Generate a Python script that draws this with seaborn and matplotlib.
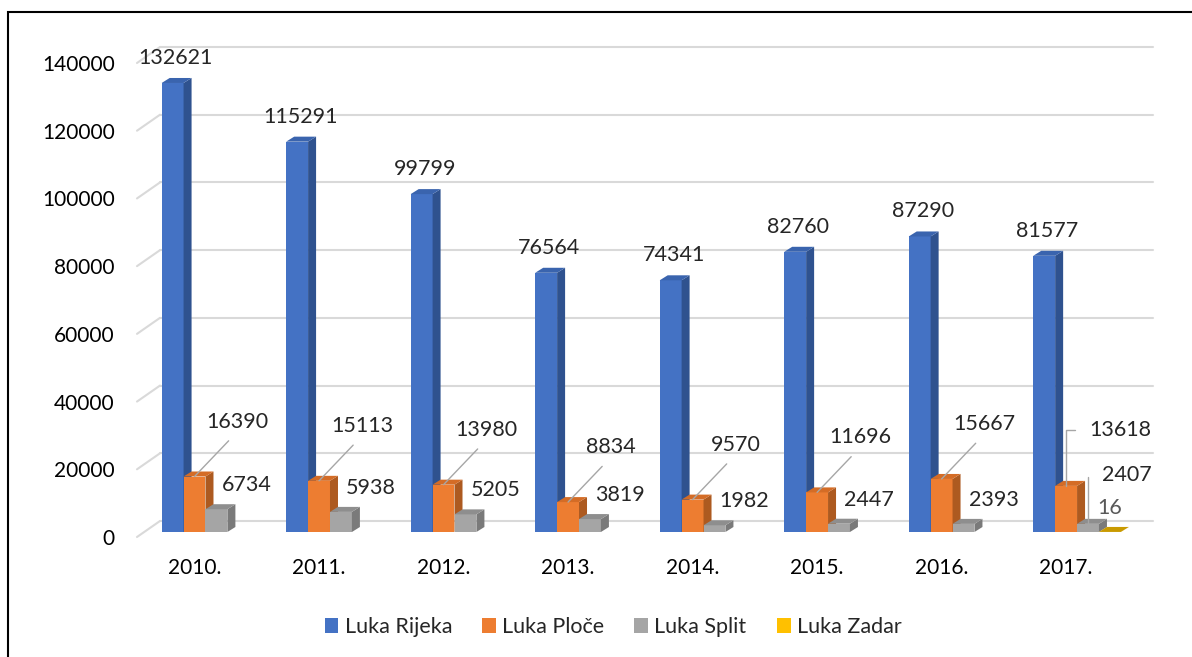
import numpy as np
import pandas as pd
import seaborn as sns
import matplotlib.pyplot as plt
from matplotlib.patches import Polygon, Rectangle
from matplotlib import transforms

# data
years = ['2010.', '2011.', '2012.', '2013.', '2014.', '2015.', '2016.', '2017.']
ports = ['Luka Rijeka', 'Luka Ploče', 'Luka Split', 'Luka Zadar']
rijeka = [132621, 115291, 99799, 76564, 74341, 82760, 87290, 81577]
ploce = [16390, 15113, 13980, 8834, 9570, 11696, 15667, 13618]
split = [6734, 5938, 5205, 3819, 1982, 2447, 2393, 2407]
zadar = [0, 0, 0, 0, 0, 0, 0, 16]
yticks = [0, 20000, 40000, 60000, 80000, 100000, 120000, 140000]

front_col = ['#4472C4', '#ED7D31', '#A5A5A5', '#FFC000']
side_col = ['#2F528F', '#AD5A20', '#7A7A7A', '#BF9000']
top_col = ['#3A64AE', '#D46C26', '#8E8E8E', '#C99A00']

df = pd.DataFrame({
    'year': years * 4,
    'port': np.repeat(ports, len(years)),
    'value': rijeka + ploce + split + zadar,
})

sns.set_style('white')
plt.rcParams['font.family'] = ['Lato', 'DejaVu Sans']

fig = plt.figure(figsize=(11.92, 6.57), dpi=100)
ax = fig.add_axes([137 / 1192, 125 / 657, 1016 / 1192, 474 / 657])

sns.barplot(data=df, x='year', y='value', hue='port', palette=front_col,
            width=0.704, saturation=1, linewidth=0, ax=ax)

ax.set_xlim(-0.55, 7.61)
ax.set_ylim(0, 140000)
for s in ax.spines.values():
    s.set_visible(False)
ax.set_xlabel('')
ax.set_ylabel('')

# pixels per data unit (axes position and limits are fixed)
p = ax.transData.transform([(0, 0), (1, 1)])
xpu = p[1, 0] - p[0, 0]
ypu = p[1, 1] - p[0, 1]
dx, dy = 8 / xpu, 5 / ypu

# gridlines on the back wall, with a slanted bit on the left floor edge
x0 = ax.get_xlim()[0]
xb = x0 + 23 / xpu
for v in yticks:
    yb = v + 11 / ypu
    ax.plot([xb, ax.get_xlim()[1]], [yb, yb], color='#D9D9D9', lw=1.5,
            zorder=1, clip_on=False)
    ax.plot([x0, xb], [v - 5 / ypu, yb], color='#D9D9D9', lw=1.5,
            zorder=1, clip_on=False)

# fake 3D depth for each bar
for k, cont in enumerate(ax.containers):
    for bar in cont:
        bar.set_zorder(3 + k)
        h = bar.get_height()
        if h <= 0:
            continue
        bx, w = bar.get_x(), bar.get_width()
        ax.add_patch(Polygon([(bx + w, 0), (bx + w, h), (bx + w + dx, h + dy), (bx + w + dx, dy)],
                             closed=True, fc=side_col[k], ec='none', zorder=3.5 + k, clip_on=False))
        ax.add_patch(Polygon([(bx, h), (bx + w, h), (bx + w + dx, h + dy), (bx + dx, h + dy)],
                             closed=True, fc=top_col[k], ec='none', zorder=3.5 + k, clip_on=False))

# data labels
lead = dict(arrowstyle='-', color='#A6A6A6', lw=1, shrinkB=0)
fs = 15.5
for k, cont in enumerate(ax.containers):
    for i, bar in enumerate(cont):
        h = bar.get_height()
        if h <= 0:
            continue
        cx = bar.get_x() + bar.get_width() / 2
        txt = f'{int(h)}'
        if k == 0:
            ax.annotate(txt, (cx, h), xytext=(3, 25), textcoords='offset pixels',
                        ha='center', va='center', fontsize=fs, zorder=10)
        elif k == 1 and i < 7:
            ax.annotate(txt, (cx, h), xytext=(43, 55), textcoords='offset pixels',
                        ha='center', va='center', fontsize=fs, zorder=10,
                        arrowprops=dict(lead, relpos=(0.5, 0), shrinkA=6))
        elif k == 1 or (k == 2 and i == 7):
            off = (54, 56) if k == 1 else (39, 49)
            ax.annotate(txt, (cx, h), xytext=off, textcoords='offset pixels',
                        ha='center', va='center', fontsize=fs, zorder=10,
                        arrowprops=dict(lead, relpos=(0, 0.5), shrinkA=8,
                                        connectionstyle='angle,angleA=0,angleB=90,rad=0'))
        elif k == 2:
            ax.annotate(txt, (cx, h), xytext=(30, 24), textcoords='offset pixels',
                        ha='center', va='center', fontsize=fs, zorder=10)
        else:
            ax.annotate(txt, (cx, h), xytext=(0, 24), textcoords='offset pixels',
                        ha='center', va='center', fontsize=fs, color='#595959', zorder=10)

ax.set_yticks(yticks, [str(v) for v in yticks])
ax.set_xticks(np.arange(len(years)) - 0.09, years)
ax.tick_params(axis='y', length=0, pad=16, labelsize=15, labelcolor='black')
ax.tick_params(axis='x', length=0, pad=19, labelsize=15, labelcolor='black')
shift = transforms.ScaledTranslation(0, -0.05, fig.dpi_scale_trans)
for lab in ax.get_yticklabels():
    lab.set_transform(lab.get_transform() + shift)

handles, labels = ax.get_legend_handles_labels()
ax.get_legend().remove()
fig.legend(handles, labels, loc='center', bbox_to_anchor=(613 / 1192, 1 - 627 / 657),
           ncol=4, frameon=False, fontsize=15.5, handlelength=0.65, handleheight=0.65,
           handletextpad=0.28, columnspacing=1.4)

# chart frame (only left and top edges fall inside the picture)
fig.add_artist(Rectangle((8 / 1192, -0.1), 1.2, 1.1 - 12 / 657, transform=fig.transFigure,
                         fill=False, ec='black', lw=1.5))

fig.savefig('out.png', dpi=100)
